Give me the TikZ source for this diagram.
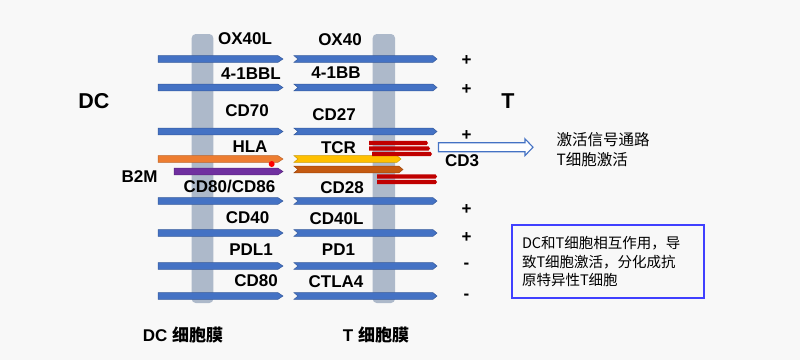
\documentclass[tikz,border=0pt]{standalone}
\usepackage{fontspec}
\setmainfont{Liberation Sans}
\newfontfamily\cjk{Noto Sans CJK SC}
\usetikzlibrary{positioning,arrows.meta,calc}
\definecolor{paper}{RGB}{248,248,248}
\definecolor{recblue}{RGB}{68,114,196}
\definecolor{recedge}{RGB}{47,85,151}
\definecolor{membrane}{RGB}{173,185,202}
\definecolor{hlaorange}{RGB}{237,125,49}
\definecolor{cdpurple}{RGB}{112,48,160}
\definecolor{tcryellow}{RGB}{255,192,0}
\definecolor{cdbrown}{RGB}{197,90,17}
\definecolor{cdred}{RGB}{192,0,0}
\definecolor{boxblue}{RGB}{64,64,255}
% ligand bar: flat tail, pointed head  {y}{x start}{x tip}{colour}
\newcommand{\ligand}[4]{\filldraw[fill=#4,draw=#4!80!black,line width=0.5pt]
  (#2,#1-3.3) -- (#3-5,#1-3.3) -- (#3,#1) -- (#3-5,#1+3.3) -- (#2,#1+3.3) -- cycle;}
% receptor bar: notched tail, pointed head
\newcommand{\receptor}[4]{\filldraw[fill=#4,draw=#4!80!black,line width=0.5pt]
  (#2,#1-3.3) -- (#3-4,#1-3.3) -- (#3,#1) -- (#3-4,#1+3.3) -- (#2,#1+3.3) -- (#2+4,#1) -- cycle;}
\newcommand{\chain}[3]{\fill[cdred] (#2,#1-2.2) -- (#3-1.5,#1-2.2) -- (#3,#1) -- (#3-1.5,#1+2.2) -- (#2,#1+2.2) -- cycle;}

\begin{document}
\begin{tikzpicture}[x=1pt,y=-1pt,
    lbl/.style={font=\bfseries\fontsize{17}{19}\selectfont, inner sep=0pt},
    big/.style={font=\bfseries\fontsize{21.5}{24}\selectfont, inner sep=0pt},
    sign/.style={font=\bfseries\fontsize{17}{19}\selectfont, inner sep=0pt},
    side/.style={font=\cjk\fontsize{15.5}{18}\selectfont, inner sep=0pt, anchor=west}]
    \useasboundingbox (0,0) rectangle (800,360);
    \fill[paper] (0,0) rectangle (800,360);
    % the two membranes
    \fill[membrane,rounded corners=4pt] (191.7,34) rectangle (213.3,303);
    \fill[membrane,rounded corners=4pt] (372.7,34) rectangle (395,303);
    % blue ligand / receptor pairs
    \foreach \yy in {59,87.5,131.5,201,233,266,296} {
        \ligand{\yy}{158}{283}{recblue}
        \receptor{\yy}{294}{437}{recblue}
    }
    % HLA + B2M, TCR side
    \ligand{159}{158}{283}{hlaorange}
    \ligand{171.5}{174}{283}{cdpurple}
    \receptor{159}{294}{401}{tcryellow}
    \receptor{169.5}{294}{403}{cdbrown}
    \fill[red] (271.7,164) circle (3pt);
    % CD3 chains
    \chain{143}{369}{428}  \chain{148.5}{369}{430}  \chain{154}{372}{432}
    \chain{176.5}{377}{437}  \chain{182}{377}{437}
    % labels, DC side
    \node[lbl] (ox40l)  at (245,39)    {OX40L};
    \node[lbl] (bbl)    at (251,73.5)  {4-1BBL};
    \node[lbl] (cd70)   at (247,111)   {CD70};
    \node[lbl] (hla)    at (250,147)   {HLA};
    \node[lbl] (b2m)    at (139.5,176.5) {B2M};
    \node[lbl] (cd8086) at (229.5,186.5) {CD80/CD86};
    \node[lbl] (cd40)   at (247.5,218) {CD40};
    \node[lbl] (pdl1)   at (251,250)   {PDL1};
    \node[lbl] (cd80)   at (256,281)   {CD80};
    % labels, T side
    \node[lbl] (ox40)   at (340,39.5)  {OX40};
    \node[lbl] (bb)     at (336,73)    {4-1BB};
    \node[lbl] (cd27)   at (334,114.5) {CD27};
    \node[lbl] (tcr)    at (338.5,147.5) {TCR};
    \node[lbl] (cd28)   at (342,188)   {CD28};
    \node[lbl] (cd40l)  at (336.5,218.5) {CD40L};
    \node[lbl] (pd1)    at (338.5,249.5) {PD1};
    \node[lbl] (ctla4)  at (336,281.5) {CTLA4};
    \node[lbl] (cd3)    at (462,161)   {CD3};
    \node[big] (dc)     at (94,101)    {DC};
    \node[big] (tcell)  at (508,101)   {T};
    % signs
    \foreach \yy/\s [count=\i] in {61/+,90/+,136/+,210/+,238/+,266/-,297/-}
        \node[sign] (sg\i) at (466.5,\yy) {\s};
    % signal arrow
    \filldraw[fill=white,draw=recblue,line width=1.1pt]
        (438.5,142.7) -- (525,142.7) -- (525,138.8) -- (533,147.2) -- (525,155.6)
        -- (525,151.7) -- (438.5,151.7) -- cycle;
    \node[side] (path) at (556.5,140) {激活信号通路};
    \node[side] (act)  at (556.5,160) {T细胞激活};
    % note box
    \node[draw=boxblue, line width=1.3pt, minimum width=192pt, minimum height=73pt,
          text width=172pt, inner xsep=10pt, align=left,
          font=\cjk\fontsize{14.5}{18.3}\selectfont] (note) at (608,261.5)
        {DC和T细胞相互作用，导\\致T细胞激活，分化成抗\\原特异性T细胞};
    % membrane names
    \node[lbl] (dcmem) at (183,335.5) {DC {\cjk\bfseries 细胞膜}};
    \node[lbl] (tmem)  at (376,335.5) {T {\cjk\bfseries 细胞膜}};
\end{tikzpicture}
\end{document}
